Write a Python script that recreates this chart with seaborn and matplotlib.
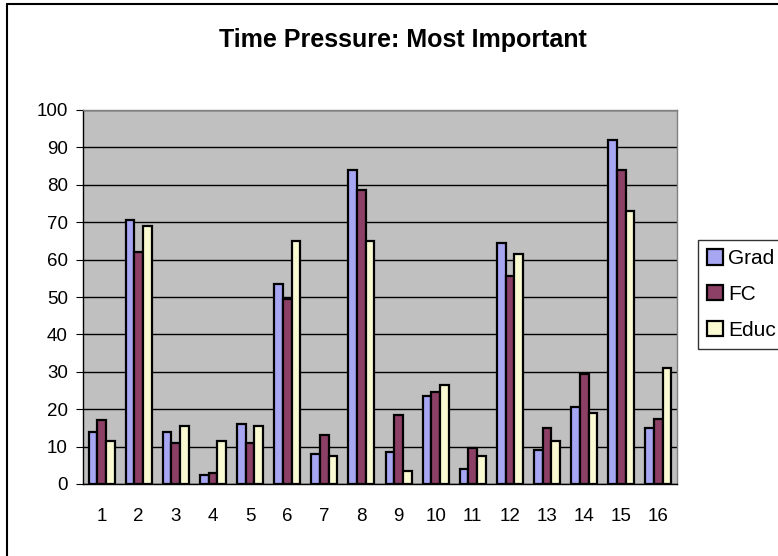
import numpy as np
import pandas as pd
import matplotlib
matplotlib.use("Agg")
import matplotlib.pyplot as plt
import seaborn as sns

# ── Data ────────────────────────────────────────────────────
categories = [str(i) for i in range(1, 17)]
grad = [14, 70.5, 14, 2.5, 16, 53.5, 8, 84, 8.5, 23.5, 4, 64.5, 9, 20.5, 92, 15]
fc   = [17, 62, 11, 3, 11, 49.5, 13, 78.5, 18.5, 24.5, 9.5, 55.5, 15, 29.5, 84, 17.5]
educ = [11.5, 69, 15.5, 11.5, 15.5, 65, 7.5, 65, 3.5, 26.5, 7.5, 61.5, 11.5, 19, 73, 31]
series = ["Grad", "FC", "Educ"]

df = pd.DataFrame({
    "cat": categories * 3,
    "value": grad + fc + educ,
    "series": [s for s in series for _ in categories],
})

colors = {"Grad": "#9999FF", "FC": "#993366", "Educ": "#FFFFCC"}

sns.set_style("white")
plt.rcParams["font.family"] = ["Liberation Sans", "DejaVu Sans"]
plt.rcParams["text.color"] = "black"
plt.rcParams["xtick.color"] = "black"
plt.rcParams["ytick.color"] = "black"

fig = plt.figure(figsize=(7.78, 5.56), dpi=100)
ax = fig.add_axes([83 / 778, 1 - 484 / 556, 594 / 778, 374 / 556])

sns.barplot(data=df, x="cat", y="value", hue="series", palette=colors,
            order=categories, hue_order=series, width=0.7,
            edgecolor="black", linewidth=1.6, ax=ax, legend=True)

ax.set_facecolor("#C0C0C0")
ax.set_ylim(0, 100)
ax.set_yticks(range(0, 101, 10))
ax.set_xlim(-0.5, 15.5)
ax.yaxis.grid(True, color="black", linewidth=1)
ax.set_axisbelow(True)
ax.set_xlabel("")
ax.set_ylabel("")
ax.tick_params(axis="y", labelsize=13.5, length=5, color="black", labelcolor="black",
               direction="out", left=True, pad=6)
ax.tick_params(axis="x", labelsize=13.5, labelcolor="black", bottom=False, pad=14)
for side in ["top", "right"]:
    ax.spines[side].set_color("#808080")
    ax.spines[side].set_linewidth(1)
for side in ["left", "bottom"]:
    ax.spines[side].set_color("black")
    ax.spines[side].set_linewidth(1)
# category separator ticks
ax.set_xticks(np.arange(-0.5, 16, 1), minor=True)
ax.tick_params(axis="x", which="minor", length=5, color="black")

fig.text(403 / 778, 1 - 40 / 556, "Time Pressure: Most Important",
         fontsize=18, fontweight="bold", ha="center", va="center", color="black")

leg = ax.legend(loc="upper left", fontsize=15, frameon=True, fancybox=False,
                edgecolor="black", handlelength=0.75, handleheight=0.75,
                handletextpad=0.25, borderpad=0.45, labelspacing=0.8,
                borderaxespad=0)
leg.get_frame().set_linewidth(1)
leg.set_bbox_to_anchor((698 / 778, 1 - 240 / 556), transform=fig.transFigure)
for t in leg.get_texts():
    t.set_color("black")

# outer border (only left and top visible in the crop)
fig.add_artist(plt.Line2D([7 / 778, 7 / 778], [0, 1 - 4 / 556],
                          transform=fig.transFigure, color="black", linewidth=1.5))
fig.add_artist(plt.Line2D([7 / 778, 1], [1 - 4 / 556, 1 - 4 / 556],
                          transform=fig.transFigure, color="black", linewidth=1.5))

fig.savefig("out.png", dpi=100)
